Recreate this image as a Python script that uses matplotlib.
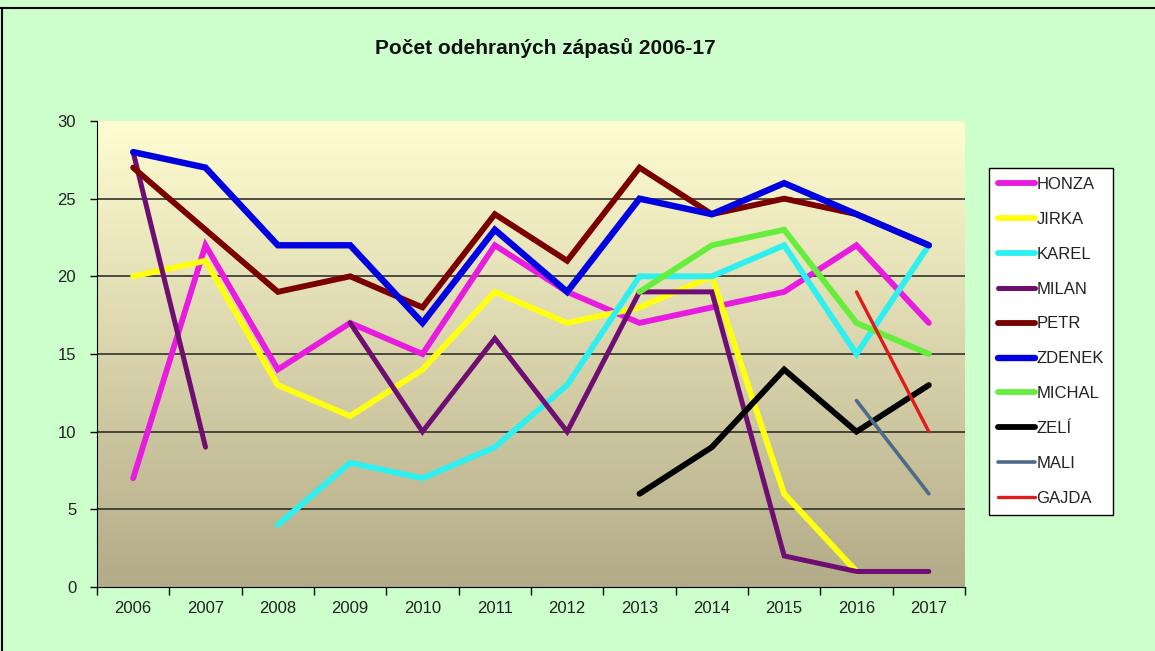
"""
Line chart of matches played per player, seasons 2006-2017.
"""
import matplotlib.pyplot as plt
import numpy as np

nan = np.nan

years = ['2006', '2007', '2008', '2009', '2010', '2011',
         '2012', '2013', '2014', '2015', '2016', '2017']

honza = [7, 22, 14, 17, 15, 22, 19, 17, 18, 19, 22, 17]
jirka = [20, 21, 13, 11, 14, 19, 17, 18, 20, 6, 1, nan]
karel = [nan, nan, 4, 8, 7, 9, 13, 20, 20, 22, 15, 22]
milan = [28, 9, nan, 17, 10, 16, 10, 19, 19, 2, 1, 1]
petr = [27, 23, 19, 20, 18, 24, 21, 27, 24, 25, 24, 22]
zdenek = [28, 27, 22, 22, 17, 23, 19, 25, 24, 26, 24, 22]
michal = [nan, nan, nan, nan, nan, nan, nan, 19, 22, 23, 17, 15]
zeli = [nan, nan, nan, nan, nan, nan, nan, 6, 9, 14, 10, 13]
mali = [nan, nan, nan, nan, nan, nan, nan, nan, nan, nan, 12, 6]
gajda = [nan, nan, nan, nan, nan, nan, nan, nan, nan, nan, 19, 10]

players = ['HONZA', 'JIRKA', 'KAREL', 'MILAN', 'PETR',
           'ZDENEK', 'MICHAL', 'ZELÍ', 'MALI', 'GAJDA']
series = [honza, jirka, karel, milan, petr, zdenek, michal, zeli, mali, gajda]
colors = ['#E81CE0', '#FFFF10', '#2EF0F0', '#6E0E72', '#7A0000',
          '#0000E0', '#66EE3C', '#000000', '#4E6A8A', '#E01A1A']
widths = [4.2, 4.2, 4.2, 3.6, 4.2, 4.6, 4.2, 4.2, 2.6, 2.4]

plt.rcParams['font.family'] = ['Liberation Sans', 'DejaVu Sans']

fig = plt.figure(figsize=(11.55, 6.51), dpi=100, facecolor='#CCFFCC')
ax = fig.add_axes([97 / 1155, 1 - 587 / 651, 868 / 1155, 466 / 651])

# plot area: pale yellow at the top fading to khaki at the bottom
top = np.array([1.0, 0.992, 0.82])
bottom = np.array([0.70, 0.67, 0.53])
t = np.linspace(0, 1, 256)[:, None]
grad = top * (1 - t) + bottom * t
ax.imshow(grad[:, None, :], extent=[0, 1, 0, 1], transform=ax.transAxes,
          aspect='auto', zorder=0)

x = np.arange(len(years))
for name, vals, c, lw in zip(players, series, colors, widths):
    ax.plot(x, vals, color=c, lw=lw, label=name, solid_capstyle='round',
            solid_joinstyle='miter', zorder=3)

ax.set_xlim(-0.5, len(years) - 0.5)
ax.set_ylim(0, 30)
ax.set_yticks(range(0, 31, 5))
ax.set_xticks(x)
ax.set_xticklabels(years)
ax.set_xticks(np.arange(-0.5, len(years)), minor=True)
ax.tick_params(axis='x', which='major', length=0, pad=10, labelsize=12,
               labelcolor='#222222')
ax.tick_params(axis='x', which='minor', length=6, width=1, direction='out')
ax.tick_params(axis='y', length=5, width=1, direction='out', labelsize=12,
               pad=10, labelcolor='#222222')
for y in range(5, 30, 5):
    ax.axhline(y, color='#222222', lw=1.1, zorder=1)

for side in ('top', 'right'):
    ax.spines[side].set_visible(False)
ax.spines['left'].set_color('black')
ax.spines['bottom'].set_color('black')

fig.text(545 / 1155, 1 - 48 / 651, 'Počet odehraných zápasů 2006-17',
         ha='center', va='center', fontsize=15, fontweight='bold', color='#111111')

leg = fig.legend(loc='upper left', bbox_to_anchor=(989 / 1155, 1 - 168 / 651),
                 borderaxespad=0, frameon=True, fancybox=False,
                 handlelength=2.2, handletextpad=0.1, labelspacing=1.19,
                 borderpad=0.55, fontsize=12)
leg.get_frame().set_edgecolor('black')
leg.get_frame().set_linewidth(1)
leg.get_frame().set_facecolor('white')
leg.get_frame().set_alpha(1)
for txt in leg.get_texts():
    txt.set_color('#222222')

# sheet border lines across the top and down the left edge
fig.add_artist(plt.Line2D([0, 1], [1 - 8 / 651, 1 - 8 / 651], color='black', lw=1.5))
fig.add_artist(plt.Line2D([2 / 1155, 2 / 1155], [0, 1 - 8 / 651], color='black', lw=1.5))

fig.savefig('out.png', dpi=100, facecolor=fig.get_facecolor())
